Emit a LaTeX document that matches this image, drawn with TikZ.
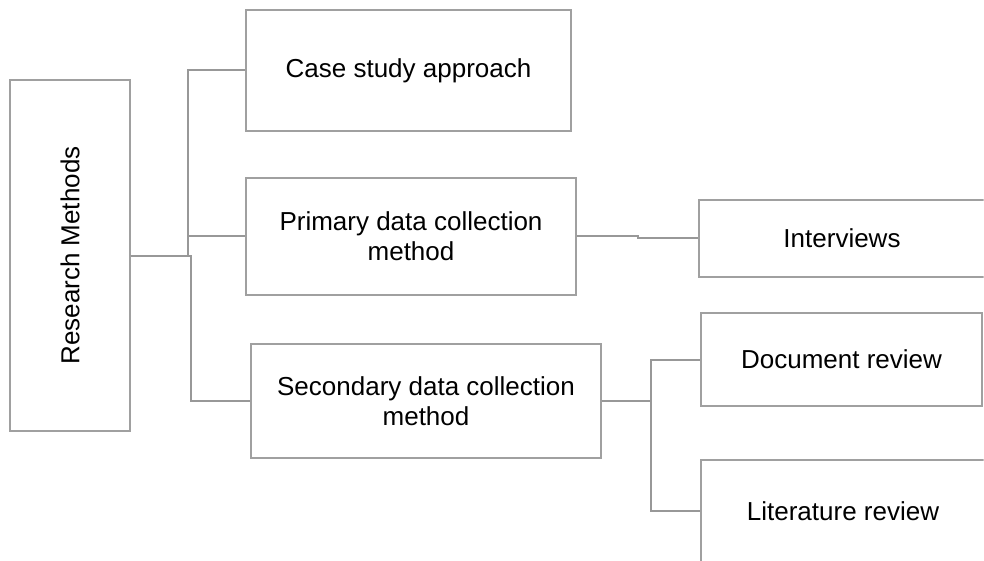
\documentclass[tikz,border=0pt]{standalone}
\usepackage{fontspec}
\setmainfont{Liberation Sans}
\usetikzlibrary{calc}
\definecolor{linegray}{RGB}{160,160,160}

\begin{document}
\begin{tikzpicture}[x=1pt, y=-1pt,
        box/.style={rectangle, draw=linegray, line width=1.6pt, inner sep=0pt, align=center, font=\fontsize{26}{30}\selectfont},
        elbow/.style={draw=linegray!95!black, line width=2pt, to path={-| ($(\tikztostart)!0.5!(\tikztotarget)$) |- (\tikztotarget)}}
    ]
        \useasboundingbox (0,0) rectangle (984,561);
        \clip (0,0) rectangle (983.5,561);
        \node[box, minimum width=120, minimum height=351] (rm) at (70,255.5) {\rotatebox{90}{Research Methods}};
        \node[box, minimum width=325, minimum height=121] (cs) at (408.5,70.5) {Case study approach};
        \node[box, minimum width=330, minimum height=117] (pd) at (411,236.5) {Primary data collection\\method};
        \node[box, minimum width=350, minimum height=114] (sd) at (426,401) {Secondary data collection\\method};
        \node[box, minimum width=286, minimum height=77] (iv) at (842,238.5) {Interviews};
        \node[box, minimum width=281, minimum height=93] (dr) at (841.5,359.5) {Document review};
        \node[box, minimum width=284, minimum height=102] (lr) at (843,511) {Literature review};
        \draw[elbow] (rm.east) to (cs.west);
        \draw[elbow] (rm.east) to (pd.west);
        \draw[elbow] (rm.east) to (sd.west);
        \draw[elbow] (pd.east) to (iv.west);
        \draw[elbow] (sd.east) to (dr.west);
        \draw[elbow] (sd.east) to (lr.west);
    \end{tikzpicture}
\end{document}
